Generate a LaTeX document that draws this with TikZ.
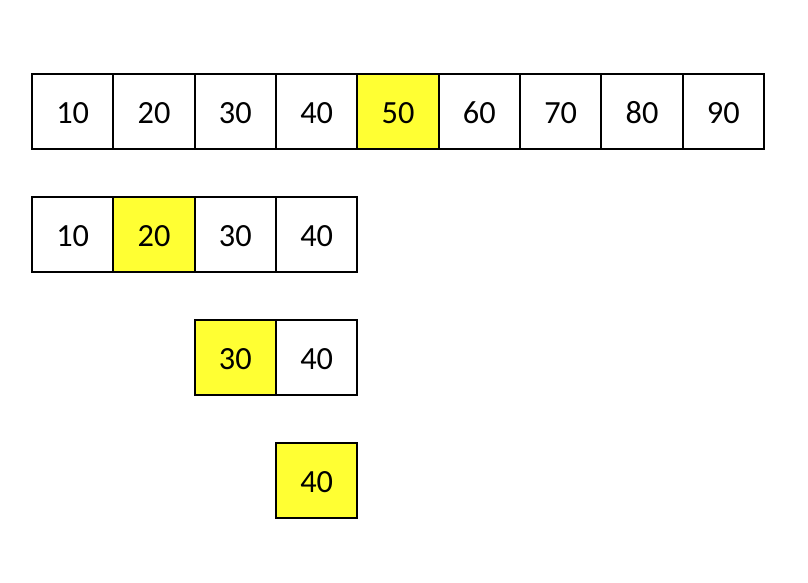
\documentclass[tikz,border=0pt]{standalone}
\usepackage{fontspec}
\setmainfont{Carlito}[Numbers={Lining,Monospaced}]
\usepackage[HTML]{xcolor}
\usepackage{tikz}
\usetikzlibrary{positioning}

\definecolor{hilite}{HTML}{FFFF33}

\begin{document}
\begin{tikzpicture}[
    cell/.style={draw, line width=1.2pt, fill=white, minimum width=2.0333cm,
        minimum height=1.875cm, inner sep=0pt, outer sep=0pt,
        text height=0.58cm, text depth=0pt,
        font=\fontsize{23}{28}\selectfont},
    mid/.style={cell, fill=hilite},
    node distance=1.2cm]

\useasboundingbox (0,0) rectangle (20.2,-14.575);

% --- Full array ---
\node[cell] (A1) at (1.8167,-2.7875) {10};
\node[cell, right=0pt of A1] (A2) {20};
\node[cell, right=0pt of A2] (A3) {30};
\node[cell, right=0pt of A3] (A4) {40};
\node[mid,  right=0pt of A4] (A5) {50};
\node[cell, right=0pt of A5] (A6) {60};
\node[cell, right=0pt of A6] (A7) {70};
\node[cell, right=0pt of A7] (A8) {80};
\node[cell, right=0pt of A8] (A9) {90};

% --- Left half ---
\node[cell, below=of A1] (B1) {10};
\node[mid,  right=0pt of B1] (B2) {20};
\node[cell, right=0pt of B2] (B3) {30};
\node[cell, right=0pt of B3] (B4) {40};

% --- Right quarter ---
\node[mid,  below=of B3] (C3) {30};
\node[cell, right=0pt of C3] (C4) {40};

% --- Last element ---
\node[mid, below=of C4] (D4) {40};

\end{tikzpicture}
\end{document}
